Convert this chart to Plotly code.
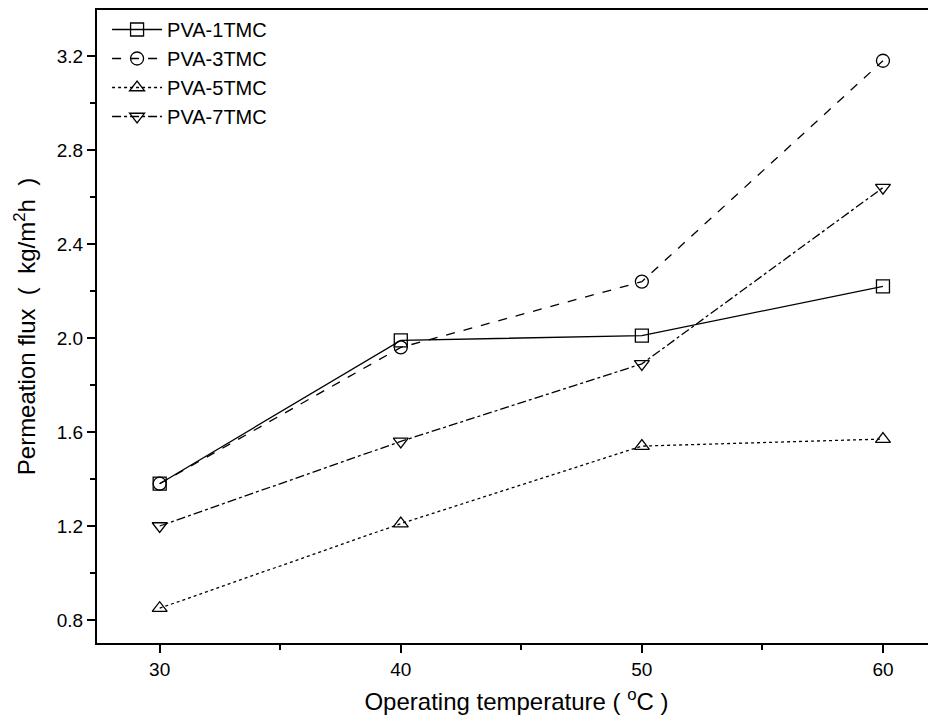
import plotly.graph_objects as go

temps = [30, 40, 50, 60]
pva1 = [1.38, 1.99, 2.01, 2.22]
pva3 = [1.38, 1.96, 2.24, 3.18]
pva5 = [0.85, 1.21, 1.54, 1.57]
pva7 = [1.20, 1.56, 1.89, 2.64]
names = ["PVA-1TMC", "PVA-3TMC", "PVA-5TMC", "PVA-7TMC"]

series = [pva1, pva3, pva5, pva7]
dashes = ["solid", "dash", "dot", "dashdot"]
symbols = ["square-open", "circle-open", "triangle-up-open", "triangle-down-open"]

fig = go.Figure()
for name, ys, d, s in zip(names, series, dashes, symbols):
    fig.add_trace(go.Scatter(
        x=temps, y=ys, name=name, mode="lines+markers",
        line=dict(color="black", width=1.3, dash=d),
        marker=dict(symbol=s, size=13, color="black", line=dict(width=1.3, color="black")),
    ))

# page body has an 8px default margin, so the figure is sized to fit the 936x727 window
fig.update_layout(
    width=928, height=719,
    paper_bgcolor="white", plot_bgcolor="white",
    margin=dict(l=89, r=0, t=2, b=84),
    font=dict(family="Liberation Sans, Arial, sans-serif", size=19, color="black"),
    showlegend=True,
    legend=dict(x=0.012, y=1.0, xanchor="left", yanchor="top",
                bgcolor="rgba(0,0,0,0)", font=dict(size=20), itemwidth=50,
                tracegroupgap=0),
)
fig.update_xaxes(
    range=[27.4, 62.2], tickvals=[30, 40, 50, 60],
    showline=True, linecolor="black", linewidth=2, mirror=True,
    ticks="outside", ticklen=8, tickwidth=1.5, tickcolor="black",
    minor=dict(tickvals=[35, 45, 55], ticks="outside", ticklen=5, tickwidth=1.5, tickcolor="black"),
    showgrid=False, zeroline=False, automargin=False,
    tickfont=dict(size=19),
    title=dict(text="Operating temperature (\u00a0<sup>o</sup>C\u00a0)", font=dict(size=24), standoff=14),
)
fig.update_yaxes(
    range=[0.702, 3.396], tickvals=[0.8, 1.2, 1.6, 2.0, 2.4, 2.8, 3.2],
    ticktext=["0.8", "1.2", "1.6", "2.0", "2.4", "2.8", "3.2"],
    showline=True, linecolor="black", linewidth=2, mirror=False,
    ticks="outside", ticklen=8, tickwidth=1.5, tickcolor="black",
    minor=dict(tickvals=[1.0, 1.4, 1.8, 2.2, 2.6, 3.0], ticks="outside", ticklen=5, tickwidth=1.5, tickcolor="black"),
    showgrid=False, zeroline=False, automargin=False,
    tickfont=dict(size=19),
    title=dict(text="Permeation flux\u00a0\u00a0(\u00a0\u00a0kg/m<sup>2</sup>h\u00a0\u00a0)", font=dict(size=24), standoff=14),
)

fig.write_html("out.html")
